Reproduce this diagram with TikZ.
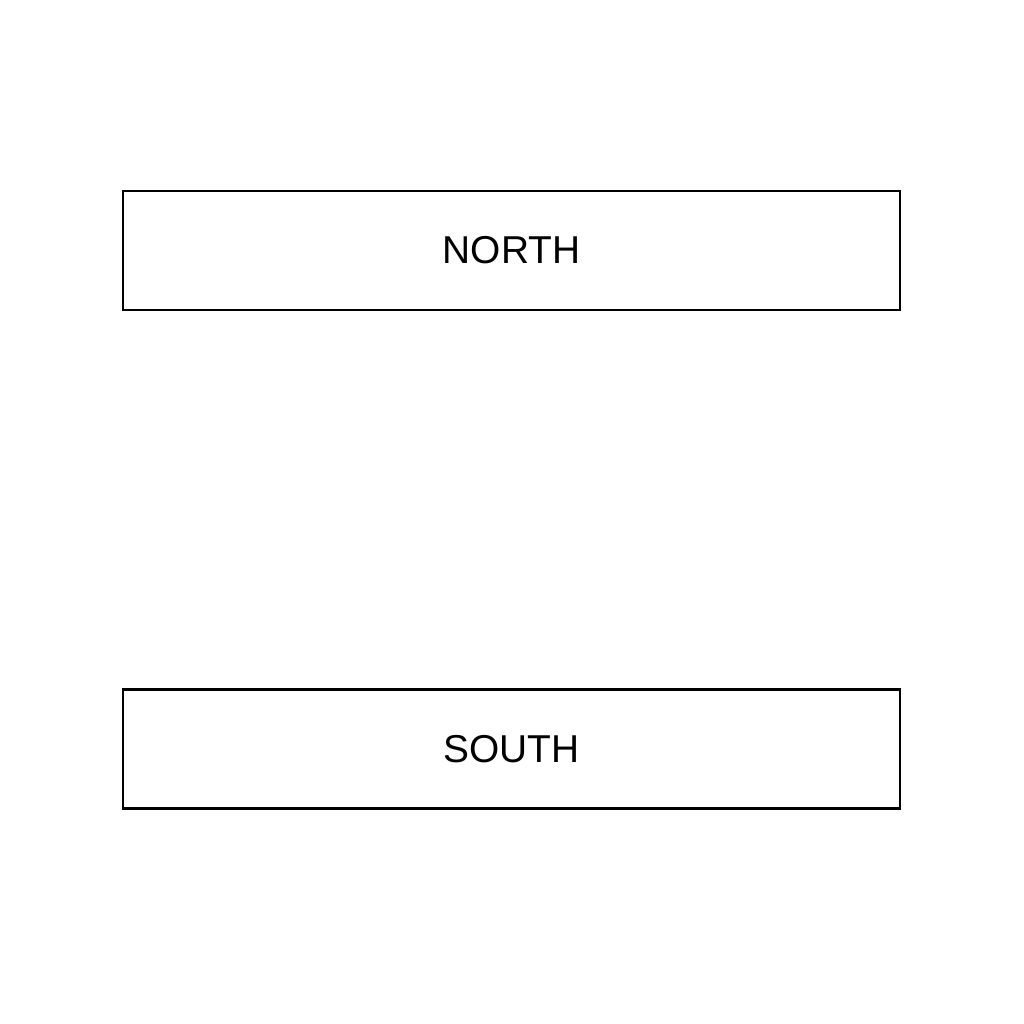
\documentclass[tikz,border=0pt]{standalone}
\usepackage{fontspec}
\setmainfont{Liberation Sans}
\begin{document}
\begin{tikzpicture}[x=0.01cm,y=-0.01cm,
  zonebox/.style={draw=black,line width=0.6pt,minimum width=7.77cm,minimum height=1.19cm,inner sep=0pt,font=\fontsize{11.05}{13}\selectfont}]
\useasboundingbox (0,0) rectangle (1024,1024);
\node[zonebox] (north) at (511.5,250.5) {NORTH};
\node[zonebox] (south) at (511.5,749) {SOUTH};
\end{tikzpicture}
\end{document}
